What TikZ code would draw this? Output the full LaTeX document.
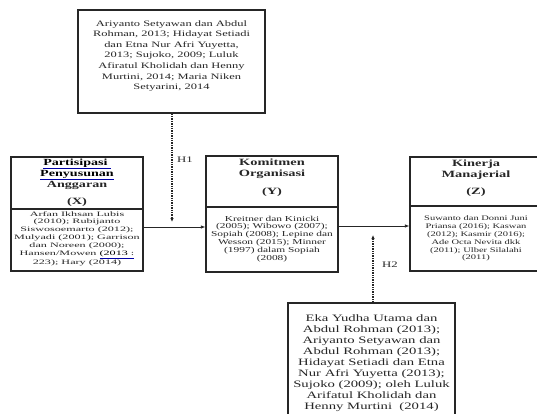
\documentclass[tikz,border=0pt]{standalone}
\usepackage{fontspec}
\setmainfont{Liberation Serif}[FakeStretch=1.5]
\newfontfamily\xwide{Liberation Serif}[FakeStretch=1.8]
\usetikzlibrary{arrows.meta}
\newcommand{\blueul}[1]{{\color{blue!65!black}\underline{\color{black}#1}}}
\tikzset{
  boxnode/.style={draw=black!85, line width=1.3pt, rectangle, inner sep=0pt},
  txt/.style={align=center, inner sep=0pt, text=black!85},
  topfont/.style={font={\fontsize{8.3}{10.6}\selectfont}},
  botfont/.style={font={\fontsize{9.8}{11}\selectfont}},
  headfont/.style={font={\bfseries\fontsize{9.6}{11.2}\selectfont}},
  reffont/.style={font={\fontsize{#1}{7.9}\selectfont}},
  link/.style={-{Latex[length=4.5pt,width=3.5pt]}, line width=0.8pt, draw=black!85},
  hyp/.style={densely dotted, line width=1.4pt, draw=black!85, -{Latex[length=4pt,width=3.5pt]}},
  hlabel/.style={font={\fontsize{8.5}{10}\selectfont}, inner sep=0pt, text=black!85},
}
\begin{document}
\begin{tikzpicture}[x=1pt,y=-1pt]
\useasboundingbox (0,0) rectangle (537,414);
\clip (0,0) rectangle (537,414);
\fill[white] (0,0) rectangle (537,414);

% boxes
\node[boxnode, minimum width=187pt, minimum height=103pt] (T) at (171.5,61.5) {};
\node[boxnode, minimum width=132pt, minimum height=114pt] (X) at (77,214) {};
\node[boxnode, minimum width=132pt, minimum height=116pt] (Y) at (272,214) {};
\node[boxnode, minimum width=132pt, minimum height=114pt] (Z) at (476,214) {};
\node[boxnode, minimum width=167pt, minimum height=117pt] (B) at (371.5,361.5) {};

% separators
\draw[line width=1.1pt, black!85] (X.west |- 0,209) -- (X.east |- 0,209);
\draw[line width=1.1pt, black!85] (Y.west |- 0,207) -- (Y.east |- 0,207);
\draw[line width=1.1pt, black!85] (Z.west |- 0,206) -- (Z.east |- 0,206);

% texts
\node[txt, topfont] (Ttext) at (171.5,56) {Ariyanto Setyawan dan Abdul\\Rohman, 2013; Hidayat Setiadi\\dan Etna Nur Afri Yuyetta,\\2013; Sujoko, 2009; Luluk\\Afiratul Kholidah dan Henny\\Murtini, 2014; Maria Niken\\Setyarini, 2014};

\node[txt, font={\bfseries\fontsize{9.4}{9.4}\selectfont}] (Xhead) at (77,174) {\blueul{Partisipasi\,\,}\\\blueul{Penyusunan}\\Anggaran};
\node[txt, headfont] (Xlab) at (77,202) {(X)};
\node[txt, font={\xwide\fontsize{6.75}{7.8}\selectfont}] (Xref) at (77,238.5) {Arfan Ikhsan Lubis\\(2010); Rubijanto\\Siswosoemarto (2012);\\Mulyadi (2001); Garrison\\dan Noreen (2000);\\Hansen/Mowen \blueul{(2013 :}\\223); Hary (2014)};

\node[txt, headfont] (Yhead) at (272,169) {Komitmen\\Organisasi};
\node[txt, headfont] (Ylab) at (272,192) {(Y)};
\node[txt, reffont=7.6] (Yref) at (272,239) {Kreitner dan Kinicki\\(2005); Wibowo (2007);\\Sopiah (2008); Lepine dan\\Wesson (2015); Minner\\(1997) dalam Sopiah\\(2008)};

\node[txt, headfont] (Zhead) at (476,170) {Kinerja\\Manajerial};
\node[txt, headfont] (Zlab) at (476,192) {(Z)};
\node[txt, reffont=7.0] (Zref) at (476,238.5) {Suwanto dan Donni Juni\\Priansa (2016); Kaswan\\(2012); Kasmir (2016);\\Ade Octa Nevita dkk\\(2011); Ulber Silalahi\\(2011)};

\node[txt, botfont] (Btext) at (371.5,363) {Eka Yudha Utama dan\\Abdul Rohman (2013);\\Ariyanto Setyawan dan\\Abdul Rohman (2013);\\Hidayat Setiadi dan Etna\\Nur Afri Yuyetta (2013);\\Sujoko (2009); oleh Luluk\\Arifatul Kholidah dan\\Henny Murtini\ \ (2014)};

% connectors
\coordinate (h1end) at (172,222);
\coordinate (h2end) at (373,235);
\draw[link] (X.east |- 0,227) -- (Y.west |- 0,227);
\draw[link] (Y.east |- 0,226) -- (Z.west |- 0,226);
\draw[hyp] (T.south -| h1end) -- (h1end);
\draw[hyp] (B.north -| h2end) -- (h2end);
\node[hlabel] (H1) at (185,160) {H1};
\node[hlabel] (H2) at (390,265) {H2};
\end{tikzpicture}
\end{document}
